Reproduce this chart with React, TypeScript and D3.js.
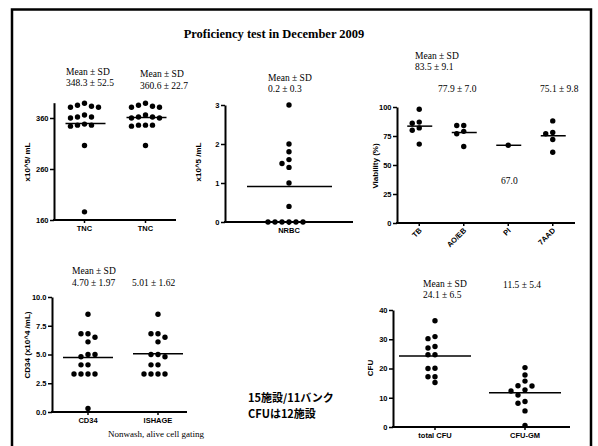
import React, { useEffect, useRef } from 'react';
import * as d3 from 'd3';

// ---- data ----
const tncCats = ['TNC', 'TNC'];
const tncA = [389, 385, 383, 381, 381, 366, 362, 362, 360, 348, 346, 346, 344, 306, 176];
const tncB = [389, 385, 383, 381, 381, 366, 362, 362, 360, 360, 346, 346, 346, 344, 306];
const tncTicks = [160, 260, 360];

const nrbcCats = ['NRBC'];
const nrbc = [3.0, 2.0, 1.8, 1.6, 1.5, 1.4, 1.0, 0.4, 0, 0, 0, 0, 0, 0];
const nrbcTicks = [0, 1, 2, 3];

const viaCats = ['TB', 'AO/EB', 'PI', '7AAD'];
const viaTB = [98, 87, 86, 82, 80, 68];
const viaAOEB = [84, 84, 79, 77, 66];
const viaPI = [67];
const via7AAD = [88, 78, 77, 72, 61];
const viaTicks = [0, 25, 50, 75, 100];

const cd34Cats = ['CD34', 'ISHAGE'];
const cd34 = [8.5, 6.8, 6.8, 6.5, 6.1, 5.0, 4.8, 5.0, 4.1, 4.1, 3.3, 3.3, 3.3, 3.3, 0.3];
const ishage = [8.5, 6.8, 6.8, 6.5, 6.1, 5.0, 5.0, 4.8, 4.1, 4.1, 3.3, 3.3, 3.3, 3.3];
const cd34Ticks = [0, 2.5, 5, 7.5, 10];

const cfuCats = ['total CFU', 'CFU-GM'];
const cfuTotal = [36.3, 30.9, 30.2, 27.5, 27.0, 24.7, 24.7, 20.1, 20.0, 17.2, 17.2, 15.2];
const cfuGM = [20.3, 17.8, 15.7, 14.1, 14.0, 12.7, 12.3, 10.9, 8.7, 8.1, 5.5, 0.5];
const cfuTicks = [0, 10, 20, 30, 40];

const noteLines = ['15施設/11バンク', 'CFUは12施設'];

const SERIF = '"Liberation Serif", "Times New Roman", serif';
const SANS = '"Liberation Sans", Arial, sans-serif';

// GraphPad-like column scatter: nudge dots sideways until they don't overlap
const swarm = (vals, y, cx, step = 7, minD = 5.6) => {
	const placed = [];
	return vals.map(v => {
		const py = y(v);
		for (let k = 0; k < 40; k++) {
			const off = k === 0 ? 0 : (k % 2 ? -1 : 1) * Math.ceil(k / 2) * step;
			const px = cx + off;
			if (placed.every(p => Math.hypot(p[0] - px, p[1] - py) >= minD)) {
				placed.push([px, py]);
				return [px, py];
			}
		}
		return [cx, py];
	});
};

const drawPanel = (svg, p) => {
	const g = svg.append('g');
	const y = d3.scaleLinear().domain(p.yDomain).range(p.yRange);
	const x = d3.scalePoint().domain(d3.range(p.cats.length)).range(p.catRange).padding(0.5);

	const yAxis = g.append('g')
		.attr('transform', `translate(${p.x0},0)`)
		.call(d3.axisLeft(y).tickValues(p.ticks).tickSize(4).tickSizeOuter(0).tickPadding(1.5).tickFormat(p.fmt));
	yAxis.select('.domain').attr('stroke-width', 2);
	yAxis.selectAll('.tick line').attr('stroke-width', 1.5);
	yAxis.selectAll('text').attr('font-family', SANS).attr('font-weight', 'bold').attr('font-size', 7.5).attr('fill', '#000');

	const y0 = y(p.yDomain[0]);
	g.append('line').attr('x1', p.x0 - 1).attr('x2', p.x1).attr('y1', y0).attr('y2', y0)
		.attr('stroke', '#000').attr('stroke-width', 2);

	p.cats.forEach((c, i) => {
		const cx = x(i);
		g.append('line').attr('x1', cx).attr('x2', cx).attr('y1', y0).attr('y2', y0 + 3)
			.attr('stroke', '#000').attr('stroke-width', 1.5);
		const t = g.append('text').text(c)
			.attr('font-family', SANS).attr('font-weight', 'bold').attr('font-size', 7.5);
		if (p.rotate) {
			t.attr('text-anchor', 'end').attr('transform', `translate(${cx + 3},${y0 + 8}) rotate(-45)`);
		} else {
			t.attr('text-anchor', 'middle').attr('x', cx).attr('y', y0 + 11);
		}

		const vals = p.series[i];
		swarm(vals, y, cx).forEach(([px, py]) => {
			g.append('circle').attr('cx', px).attr('cy', py).attr('r', 2.7).attr('fill', '#000');
		});
		const m = y(d3.mean(vals));
		g.append('line').attr('x1', cx - p.hw[0]).attr('x2', cx + p.hw[1]).attr('y1', m).attr('y2', m)
			.attr('stroke', '#000').attr('stroke-width', 1.5);
	});

	g.append('text').text(p.ylabel)
		.attr('transform', `translate(${p.ylabelPos[0]},${p.ylabelPos[1]}) rotate(-90)`)
		.attr('text-anchor', 'middle').attr('font-family', SANS).attr('font-weight', 'bold').attr('font-size', 8);
};

const App = () => {
	const ref = useRef(null);
	const width = 598;
	const height = 446;

	useEffect(() => {
		const svg = d3.select(ref.current);
		svg.selectAll('*').remove();

		// frame
		svg.append('path').attr('d', `M12,${height} V9.5 H591 V${height}`)
			.attr('fill', 'none').attr('stroke', '#000').attr('stroke-width', 2.5);

		svg.append('text').text('Proficiency test in December 2009')
			.attr('x', 274).attr('y', 38).attr('text-anchor', 'middle')
			.attr('font-family', SERIF).attr('font-weight', 'bold').attr('font-size', 12.5);

		const fmtInt = d3.format('d');
		drawPanel(svg, {
			cats: tncCats, series: [tncA, tncB], yDomain: [160, 390], yRange: [220, 102.7],
			ticks: tncTicks, fmt: fmtInt, x0: 54, x1: 176, catRange: [54, 176], hw: [19, 21],
			ylabel: 'x10^5/ mL', ylabelPos: [30, 162],
		});
		drawPanel(svg, {
			cats: nrbcCats, series: [nrbc], yDomain: [0, 3], yRange: [222, 105],
			ticks: nrbcTicks, fmt: fmtInt, x0: 225, x1: 353, catRange: [225, 353], hw: [42, 43],
			ylabel: 'x10^5 /mL', ylabelPos: [201, 162],
		});
		drawPanel(svg, {
			cats: viaCats, series: [viaTB, viaAOEB, viaPI, via7AAD], yDomain: [0, 100], yRange: [223, 107],
			ticks: viaTicks, fmt: fmtInt, x0: 397, x1: 575, catRange: [397, 575], hw: [12, 13], rotate: true,
			ylabel: 'Viability (%)', ylabelPos: [378, 166],
		});
		drawPanel(svg, {
			cats: cd34Cats, series: [cd34, ishage], yDomain: [0, 10], yRange: [412, 297],
			ticks: cd34Ticks, fmt: d3.format('.1f'), x0: 52, x1: 187, catRange: [53, 193], hw: [25, 25],
			ylabel: 'CD34 (x10^4 /mL)', ylabelPos: [30, 345],
		});
		drawPanel(svg, {
			cats: cfuCats, series: [cfuTotal, cfuGM], yDomain: [0, 40], yRange: [427, 310],
			ticks: cfuTicks, fmt: fmtInt, x0: 393, x1: 570, catRange: [390, 570], hw: [36, 36],
			ylabel: 'CFU', ylabelPos: [373, 368],
		});

		const statText = (x, y, s, size = 9.5) =>
			svg.append('text').text(s).attr('x', x).attr('y', y)
				.attr('font-family', SERIF).attr('font-size', size);

		statText(66, 75, 'Mean ± SD');
		statText(66, 86, '348.3 ± 52.5');
		statText(140, 77, 'Mean ± SD');
		statText(140, 89, '360.6 ± 22.7');
		statText(268, 81, 'Mean ± SD');
		statText(268, 92, '0.2 ± 0.3');
		statText(415, 59, 'Mean ± SD');
		statText(415, 70, '83.5 ± 9.1');
		statText(438, 92, '77.9 ± 7.0');
		statText(540, 92, '75.1 ± 9.8');
		statText(501, 184, '67.0');
		statText(72, 274, 'Mean ± SD');
		statText(72, 286, '4.70 ± 1.97');
		statText(132, 286, '5.01 ± 1.62');
		statText(108, 437, 'Nonwash, alive cell gating', 9);
		statText(423, 287, 'Mean ± SD');
		statText(423, 298, '24.1 ± 6.5');
		statText(503, 288, '11.5 ± 5.4');

		noteLines.forEach((s, i) => {
			svg.append('text').text(s)
				.attr('x', 248).attr('y', 402 + i * 16)
				.attr('font-family', '"Noto Sans CJK JP", sans-serif')
				.attr('font-weight', 'bold').attr('font-size', 11);
		});
	}, []);

	return (
		<svg ref={ref} width={width} height={height}
			style={{ position: 'absolute', left: 0, top: 0, background: '#fff' }} />
	);
};

export default App;
